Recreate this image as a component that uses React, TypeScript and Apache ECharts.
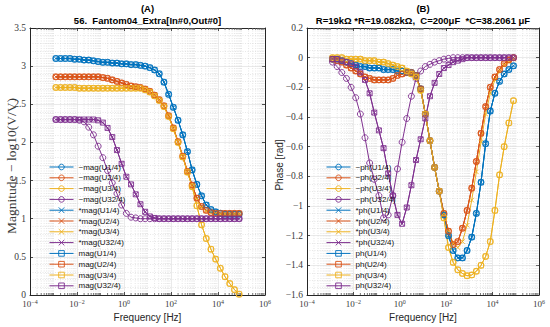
import React, { useEffect, useRef } from 'react';
import * as echarts from 'echarts';

// log10 of frequency [Hz]
const LOG_FREQ = [-2.9, -2.7, -2.5, -2.3, -2.1, -1.9, -1.7, -1.5, -1.3, -1.1, -0.9, -0.7, -0.5, -0.3, -0.1, 0.1, 0.3, 0.5, 0.7, 0.9, 1.1, 1.3, 1.5, 1.7, 1.9, 2.1, 2.3, 2.5, 2.7, 2.9, 3.1, 3.3, 3.5, 3.7, 3.9, 4.1, 4.3, 4.5, 4.7, 4.9];

const X_TICK_EXP = [-4, -2, 0, 2, 4, 6];

// Magnitude
const MAG_U1 = [3.10, 3.10, 3.10, 3.10, 3.09, 3.09, 3.08, 3.08, 3.07, 3.06, 3.05, 3.05, 3.04, 3.04, 3.03, 3.03, 3.02, 3.02, 3.01, 3.00, 2.98, 2.95, 2.90, 2.79, 2.63, 2.46, 2.29, 2.10, 1.88, 1.64, 1.45, 1.30, 1.18, 1.12, 1.09, 1.07, 1.06, 1.06, 1.06, 1.06];
const MAG_U2 = [2.86, 2.86, 2.86, 2.86, 2.86, 2.86, 2.86, 2.86, 2.86, 2.86, 2.85, 2.84, 2.82, 2.80, 2.78, 2.76, 2.74, 2.73, 2.72, 2.70, 2.67, 2.62, 2.56, 2.48, 2.35, 2.19, 2.01, 1.82, 1.62, 1.44, 1.27, 1.16, 1.11, 1.08, 1.07, 1.07, 1.07, 1.07, 1.07, 1.07];
const MAG_U3 = [2.72, 2.72, 2.72, 2.72, 2.72, 2.71, 2.71, 2.71, 2.71, 2.71, 2.71, 2.71, 2.71, 2.71, 2.71, 2.71, 2.71, 2.71, 2.71, 2.69, 2.66, 2.61, 2.55, 2.47, 2.34, 2.18, 2.00, 1.81, 1.61, 1.42, 1.17, 0.92, 0.74, 0.60, 0.47, 0.35, 0.24, 0.15, 0.07, 0.01];
const MAG_U3_FIT = [2.72, 2.72, 2.72, 2.72, 2.72, 2.71, 2.71, 2.71, 2.71, 2.71, 2.71, 2.71, 2.71, 2.71, 2.71, 2.71, 2.71, 2.71, 2.71, 2.69, 2.66, 2.61, 2.55, 2.47, 2.34, 2.18, 2.00, 1.81, 1.61, 1.42, 1.26, 1.15, 1.10, 1.08, 1.07, 1.06, 1.06, 1.06, 1.06, 1.06];
const MAG_U32_A = [2.30, 2.30, 2.30, 2.30, 2.30, 2.29, 2.27, 2.20, 2.10, 1.95, 1.80, 1.63, 1.47, 1.33, 1.18, 1.07, 1.02, 1.01, 1.00, 1.00, 1.00, 1.00, 1.00, 1.00, 1.00, 1.00, 1.00, 1.00, 1.00, 1.00, 1.00, 1.00, 1.00, 1.00, 1.00, 1.00, 1.00, 1.00, 1.00, 1.00];
const MAG_U32_B = [2.30, 2.30, 2.30, 2.30, 2.30, 2.30, 2.30, 2.30, 2.30, 2.29, 2.26, 2.19, 2.07, 1.90, 1.72, 1.55, 1.45, 1.32, 1.19, 1.09, 1.03, 1.01, 1.00, 1.00, 1.00, 1.00, 1.00, 1.00, 1.00, 1.00, 1.00, 1.00, 1.00, 1.00, 1.00, 1.00, 1.00, 1.00, 1.00, 1.00];

// Phase [rad]
const PH_U1 = [-0.01, -0.01, -0.02, -0.03, -0.04, -0.05, -0.06, -0.06, -0.07, -0.07, -0.07, -0.08, -0.08, -0.08, -0.09, -0.09, -0.10, -0.10, -0.12, -0.21, -0.38, -0.56, -0.74, -0.90, -1.06, -1.20, -1.30, -1.35, -1.35, -1.30, -1.21, -1.05, -0.84, -0.58, -0.36, -0.24, -0.16, -0.11, -0.08, -0.055];
const PH_U2 = [-0.01, -0.02, -0.03, -0.05, -0.07, -0.09, -0.11, -0.13, -0.14, -0.15, -0.15, -0.15, -0.15, -0.14, -0.12, -0.11, -0.10, -0.10, -0.12, -0.21, -0.38, -0.56, -0.74, -0.90, -1.05, -1.17, -1.26, -1.24, -1.15, -1.03, -0.88, -0.70, -0.51, -0.33, -0.20, -0.13, -0.08, -0.04, -0.015, 0.0];
const PH_U3 = [0.0, 0.0, 0.0, -0.01, -0.01, -0.01, -0.01, -0.02, -0.02, -0.02, -0.03, -0.03, -0.04, -0.05, -0.06, -0.07, -0.09, -0.11, -0.13, -0.22, -0.38, -0.56, -0.74, -0.90, -1.08, -1.28, -1.38, -1.43, -1.455, -1.47, -1.465, -1.44, -1.40, -1.34, -1.24, -1.03, -0.79, -0.60, -0.44, -0.29];
const PH_U3_FIT = [0.0, 0.0, 0.0, -0.01, -0.01, -0.01, -0.01, -0.02, -0.02, -0.02, -0.03, -0.03, -0.04, -0.05, -0.06, -0.07, -0.09, -0.11, -0.13, -0.22, -0.38, -0.56, -0.74, -0.90, -1.05, -1.17, -1.25, -1.28, -1.24, -1.13, -0.96, -0.77, -0.57, -0.38, -0.24, -0.15, -0.09, -0.05, -0.03, -0.01];
const PH_U32_A = [-0.03, -0.06, -0.10, -0.14, -0.20, -0.27, -0.38, -0.54, -0.71, -0.82, -0.93, -1.08, -1.06, -0.93, -0.75, -0.57, -0.41, -0.26, -0.14, -0.09, -0.06, -0.045, -0.03, -0.02, -0.01, -0.005, 0, 0, 0, 0, 0, 0, 0, 0, 0, 0, 0, 0, 0, 0];
const PH_U32_B = [-0.01, -0.01, -0.02, -0.03, -0.04, -0.06, -0.10, -0.15, -0.24, -0.37, -0.49, -0.61, -0.78, -0.93, -1.06, -1.12, -1.01, -0.86, -0.69, -0.55, -0.41, -0.26, -0.17, -0.11, -0.07, -0.05, -0.03, -0.02, -0.01, 0, 0, 0, 0, 0, 0, 0, 0, 0, 0, 0];

const CHANNELS = ['U1/4', 'U2/4', 'U3/4', 'U32/4'];
const COLORS = ['#0072BD', '#D95319', '#EDB120', '#7E2F8E'];
// per channel: [~ (circle), * (x), plain (square)]
const MAG_SETS = [
  [MAG_U1, MAG_U1, MAG_U1],
  [MAG_U2, MAG_U2, MAG_U2],
  [MAG_U3, MAG_U3_FIT, MAG_U3],
  [MAG_U32_A, MAG_U32_B, MAG_U32_B],
];
const PH_SETS = [
  [PH_U1, PH_U1, PH_U1],
  [PH_U2, PH_U2, PH_U2],
  [PH_U3, PH_U3_FIT, PH_U3],
  [PH_U32_A, PH_U32_B, PH_U32_B],
];
const PREFIX = ['~', '*', ''];
const MARKERS = ['o', 'x', 's'];

const SERIF = '"Liberation Serif", "Times New Roman", serif';
const SANS = '"Liberation Sans", Arial, Helvetica, sans-serif';
const X_PATH = 'path://M0,0L10,10M0,10L10,0';
const AXIS_COLOR = '#262626';

function buildMinorX(): number[] {
  const out: number[] = [];
  for (let n = -4; n < 6; n++) {
    for (let k = 1; k <= 9; k++) {
      if (k === 1 && n % 2 === 0) continue;
      out.push(n + Math.log10(k));
    }
  }
  return out;
}

function lineSeries(name: string, values: number[], color: string, marker: string, idx: number) {
  const symbol = marker === 'o' ? 'circle' : marker === 'x' ? X_PATH : 'rect';
  return {
    type: 'line',
    name,
    xAxisIndex: idx,
    yAxisIndex: idx,
    data: LOG_FREQ.map((f, i) => [f, values[i]]),
    symbol,
    symbolSize: marker === 'o' ? 6 : marker === 'x' ? 4.5 : 5,
    showSymbol: true,
    lineStyle: { color, width: 1 },
    itemStyle: { color: 'rgba(255,255,255,0)', borderColor: color, borderWidth: 0.9 },
    emphasis: { disabled: true },
    silent: true,
    z: 3,
  };
}

function minorGridSeries(idx: number, minorX: number[], yRef: number) {
  return {
    type: 'custom',
    xAxisIndex: idx,
    yAxisIndex: idx,
    silent: true,
    z: 1,
    data: minorX.map((x) => [x, yRef]),
    encode: { x: 0, y: 1 },
    renderItem: (params: any, api: any) => {
      const cs = params.coordSys;
      const px = api.coord([api.value(0), api.value(1)])[0];
      const top = cs.y;
      const bot = cs.y + cs.height;
      return {
        type: 'group',
        children: [
          { type: 'line', shape: { x1: px, y1: top, x2: px, y2: bot }, style: { stroke: '#d4d4d4', lineWidth: 0.6, lineDash: [1, 1.5] } },
          { type: 'line', shape: { x1: px, y1: bot, x2: px, y2: bot - 2 }, style: { stroke: AXIS_COLOR, lineWidth: 0.6 } },
          { type: 'line', shape: { x1: px, y1: top, x2: px, y2: top + 2 }, style: { stroke: AXIS_COLOR, lineWidth: 0.6 } },
        ],
      };
    },
  };
}

const fmtNum = (v: number) => String(+v.toFixed(2)).replace('-', '\u2212');
const fmtExp = (v: number) => `{b|10}{s|${v < 0 ? '\u2212' + Math.abs(v) : v}}`;

function xAxes(grid: number) {
  const base = {
    type: 'value',
    gridIndex: grid,
    min: X_TICK_EXP[0],
    max: X_TICK_EXP[X_TICK_EXP.length - 1],
    interval: 2,
    axisLine: { show: true, onZero: false, lineStyle: { color: AXIS_COLOR, width: 1 } },
    axisTick: { show: true, inside: true, length: 3, lineStyle: { color: AXIS_COLOR, width: 0.8 } },
  };
  return [
    {
      ...base,
      position: 'bottom',
      axisLabel: {
        formatter: fmtExp,
        margin: 3.5,
        rich: {
          b: { fontFamily: SERIF, fontSize: 9, color: '#3a3a3a', lineHeight: 10, verticalAlign: 'bottom' },
          s: { fontFamily: SERIF, fontSize: 6, color: '#3a3a3a', verticalAlign: 'top' },
        },
      },
      splitLine: { show: true, lineStyle: { color: '#dcdcdc', width: 0.6 } },
    },
    { ...base, position: 'top', axisLabel: { show: false }, splitLine: { show: false } },
  ];
}

function yAxes(grid: number, min: number, max: number, interval: number, minorSplit: number) {
  const base = {
    type: 'value',
    gridIndex: grid,
    min,
    max,
    interval,
    axisLine: { show: true, onZero: false, lineStyle: { color: AXIS_COLOR, width: 1 } },
    axisTick: { show: true, inside: true, length: 3, lineStyle: { color: AXIS_COLOR, width: 0.8 } },
  };
  return [
    {
      ...base,
      position: 'left',
      axisLabel: { formatter: fmtNum, fontFamily: SERIF, fontSize: 9.5, color: '#3a3a3a', margin: 4 },
      splitLine: { show: true, lineStyle: { color: '#dcdcdc', width: 0.6 } },
      minorTick: { show: false, splitNumber: minorSplit },
      minorSplitLine: { show: true, lineStyle: { color: '#d9d9d9', width: 0.6, type: [1, 1.5] } },
    },
    { ...base, position: 'right', axisLabel: { show: false }, splitLine: { show: false } },
  ];
}

export default function App() {
  const ref = useRef<HTMLDivElement>(null);
  useEffect(() => {
    document.body.style.margin = '0';
    if (!ref.current) return;
    const chart = echarts.init(ref.current, undefined, { renderer: 'svg' });
    const minorX = buildMinorX();

    const leftNames: string[] = [];
    const rightNames: string[] = [];
    const series: any[] = [minorGridSeries(0, minorX, 1), minorGridSeries(2, minorX, -0.5)];
    for (let v = 0; v < 3; v++) {
      for (let c = 0; c < 4; c++) {
        const ln = `${PREFIX[v]}mag(${CHANNELS[c]})`;
        leftNames.push(ln);
        series.push(lineSeries(ln, MAG_SETS[c][v], COLORS[c], MARKERS[v], 0));
      }
    }
    for (let v = 0; v < 3; v++) {
      for (let c = 0; c < 4; c++) {
        const rn = `${PREFIX[v]}ph(${CHANNELS[c]})`;
        rightNames.push(rn);
        series.push(lineSeries(rn, PH_SETS[c][v], COLORS[c], MARKERS[v], 2));
      }
    }

    const legendBase = {
      orient: 'vertical',
      top: 163,
      itemWidth: 24,
      itemHeight: 7,
      itemGap: 2.8,
      padding: 0,
      selectedMode: false,
      lineStyle: { width: 1 },
      itemStyle: { borderWidth: 0.9 },
      textStyle: { fontSize: 8, fontFamily: SANS, color: '#111', lineHeight: 8 },
    };

    const titleStyle = { fontFamily: SANS, fontWeight: 'bold', fontSize: 9.5, fill: '#000', textAlign: 'center', textVerticalAlign: 'middle' };
    const axNameStyle = { fontFamily: SANS, fontSize: 10, fill: '#262626', textAlign: 'center', textVerticalAlign: 'middle' };

    chart.setOption({
      animation: false,
      backgroundColor: '#fff',
      grid: [
        { left: 30, top: 28, width: 235, height: 267 },
        { left: 307, top: 28, width: 232, height: 267 },
      ],
      xAxis: [...xAxes(0), ...xAxes(1)],
      yAxis: [...yAxes(0, 0, 3.5, 0.5, 5), ...yAxes(1, -1.6, 0.2, 0.2, 4)],
      legend: [
        { ...legendBase, data: leftNames, left: 49 },
        { ...legendBase, data: rightNames, left: 326 },
      ],
      graphic: [
        { type: 'text', x: 147.5, y: 8.5, style: { ...titleStyle, text: '(A)' } },
        { type: 'text', x: 147.5, y: 20, style: { ...titleStyle, text: '56.  Fantom04_Extra[In#0,Out#0]' } },
        { type: 'text', x: 423, y: 8.5, style: { ...titleStyle, text: '(B)' } },
        { type: 'text', x: 423, y: 20, style: { ...titleStyle, text: 'R=19k\u03A9 *R=19.082k\u03A9,  C=200\u03BCF  *C=38.2061 \u03BCF' } },
        { type: 'text', x: 147.5, y: 317, style: { ...axNameStyle, text: 'Frequency [Hz]' } },
        { type: 'text', x: 423, y: 317, style: { ...axNameStyle, text: 'Frequency [Hz]' } },
        { type: 'text', x: 11, y: 166, rotation: Math.PI / 2, style: { ...axNameStyle, fontFamily: SERIF, fontSize: 13.5, fill: '#3a3a3a', text: 'Magnitude \u2212 log10(V/V)' } },
        { type: 'text', x: 279, y: 165, rotation: Math.PI / 2, style: { ...axNameStyle, text: 'Phase [rad]' } },
      ],
      series,
    });
    return () => chart.dispose();
  }, []);
  return <div ref={ref} style={{ width: 550, height: 327 }} />;
}
